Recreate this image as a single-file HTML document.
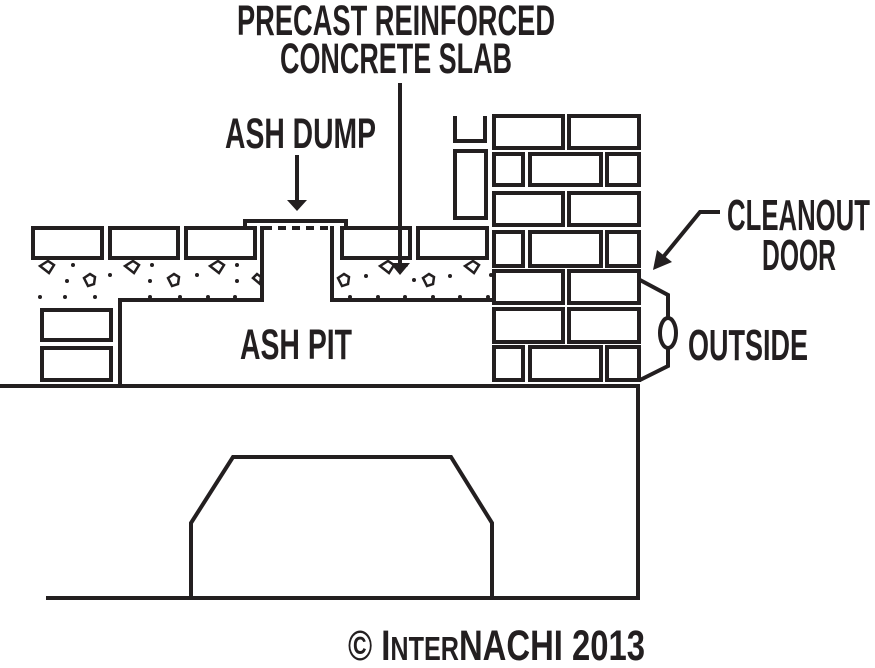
<!DOCTYPE html>
<html><head><meta charset="utf-8"><style>
html,body{margin:0;padding:0;background:#fff;}
svg{display:block}
text{font-family:"Liberation Sans Narrow","Liberation Sans",sans-serif;font-weight:bold;fill:#231f20;}
</style></head><body>
<svg width="875" height="668" viewBox="0 0 875 668" xmlns="http://www.w3.org/2000/svg">
<g fill="none" stroke="#231f20" stroke-width="4">
<polyline points="0,386 638,386 638,598 46,598"/>
<polyline points="191,598 191,523 233,457 451,457 492,523 492,598"/>
<rect x="33" y="228" width="69" height="30"/>
<rect x="110" y="228" width="68" height="30"/>
<rect x="186" y="228" width="69" height="30"/>
<rect x="342" y="228" width="68" height="30"/>
<rect x="418" y="228" width="69" height="30"/>
<polyline points="245,228 245,221 346,221 346,228"/>
<line x1="264" y1="228" x2="332" y2="228" stroke-dasharray="8,6"/>
<polyline points="262,226 262,300 120,300 120,386"/>
<polyline points="332,226 332,300 493,300"/>
<rect x="42" y="310" width="69" height="30"/>
<rect x="42" y="348" width="69" height="32"/>
<polyline points="455,116 455,141 485,141 485,116"/>
<rect x="455" y="151" width="31" height="67"/>
<rect x="494" y="116" width="69" height="32"/>
<rect x="569" y="116" width="70" height="32"/>
<rect x="494" y="154" width="29" height="31"/>
<rect x="530" y="154" width="71" height="31"/>
<rect x="607" y="154" width="32" height="31"/>
<rect x="494" y="193" width="69" height="32"/>
<rect x="569" y="193" width="70" height="32"/>
<rect x="494" y="232" width="29" height="34"/>
<rect x="530" y="232" width="71" height="34"/>
<rect x="607" y="232" width="32" height="34"/>
<rect x="494" y="271" width="69" height="32"/>
<rect x="569" y="271" width="70" height="32"/>
<rect x="494" y="309" width="69" height="33"/>
<rect x="569" y="309" width="70" height="33"/>
<rect x="494" y="347" width="29" height="33"/>
<rect x="530" y="347" width="71" height="33"/>
<rect x="607" y="347" width="32" height="33"/>
<polyline points="640,280 668,295 668,317"/>
<ellipse cx="668" cy="333" rx="8" ry="15"/>
<polyline points="668,349 668,366 640,380"/>
<line x1="297" y1="155" x2="297" y2="200"/>
<line x1="400" y1="83" x2="400" y2="265"/>
<polyline points="720,212 700,212 664,256"/>
<g stroke-width="2.5">
<path d="M40,266 l8,-5 l6,4 l-5,8 z"/><path d="M84,278 l6,-4 l5,3 l-1,7 l-6,2 z"/>
<path d="M125,266 l8,-5 l6,4 l-5,8 z"/><path d="M168,278 l6,-4 l5,3 l-1,7 l-6,2 z"/>
<path d="M210,266 l8,-5 l6,4 l-5,8 z"/><path d="M253,278 l4,-4 l4,3 l-1,7 z"/>
<path d="M380,266 l8,-5 l6,4 l-5,8 z"/><path d="M338,278 l6,-4 l5,3 l-1,7 l-6,2 z"/>
<path d="M423,278 l6,-4 l5,3 l-1,7 l-6,2 z"/><path d="M465,266 l8,-5 l6,4 l-5,8 z"/>
</g>
</g>
<g fill="#231f20">
<polygon points="287,200 307,200 297,211"/>
<polygon points="390,263 410,263 400,275"/>
<polygon points="653,270 657,250 672,262"/>
<circle cx="73" cy="265" r="2"/><circle cx="67" cy="281" r="2"/><circle cx="110" cy="275" r="2"/>
<circle cx="152" cy="265" r="2"/><circle cx="150" cy="281" r="2"/><circle cx="197" cy="275" r="2"/>
<circle cx="237" cy="265" r="2"/><circle cx="237" cy="281" r="2"/><circle cx="366" cy="276" r="2"/>
<circle cx="406" cy="265" r="2"/><circle cx="450" cy="276" r="2"/><circle cx="414" cy="280" r="2"/>
<circle cx="40" cy="297" r="2"/><circle cx="65" cy="297" r="2"/><circle cx="95" cy="297" r="2"/>
<circle cx="150" cy="297" r="2"/><circle cx="180" cy="297" r="2"/><circle cx="208" cy="297" r="2"/>
<circle cx="235" cy="297" r="2"/><circle cx="350" cy="297" r="2"/><circle cx="378" cy="297" r="2"/>
<circle cx="405" cy="297" r="2"/><circle cx="433" cy="297" r="2"/><circle cx="460" cy="297" r="2"/>
<circle cx="488" cy="297" r="2"/><circle cx="491" cy="275" r="2"/>
</g>
<text x="237" y="35" font-size="43" textLength="318" lengthAdjust="spacingAndGlyphs">PRECAST REINFORCED</text>
<text x="280" y="73" font-size="43" textLength="232" lengthAdjust="spacingAndGlyphs">CONCRETE SLAB</text>
<text x="225" y="148" font-size="43" textLength="151" lengthAdjust="spacingAndGlyphs">ASH DUMP</text>
<text x="240" y="359" font-size="43" textLength="112" lengthAdjust="spacingAndGlyphs">ASH PIT</text>
<text x="727" y="230" font-size="44" textLength="143" lengthAdjust="spacingAndGlyphs">CLEANOUT</text>
<text x="762" y="270" font-size="44" textLength="74" lengthAdjust="spacingAndGlyphs">DOOR</text>
<text x="688" y="360" font-size="44" textLength="120" lengthAdjust="spacingAndGlyphs">OUTSIDE</text>
<text x="348" y="660" font-size="43" textLength="297" lengthAdjust="spacingAndGlyphs">© I<tspan font-size="33">NTER</tspan>NACHI 2013</text>
</svg>
</body></html>
